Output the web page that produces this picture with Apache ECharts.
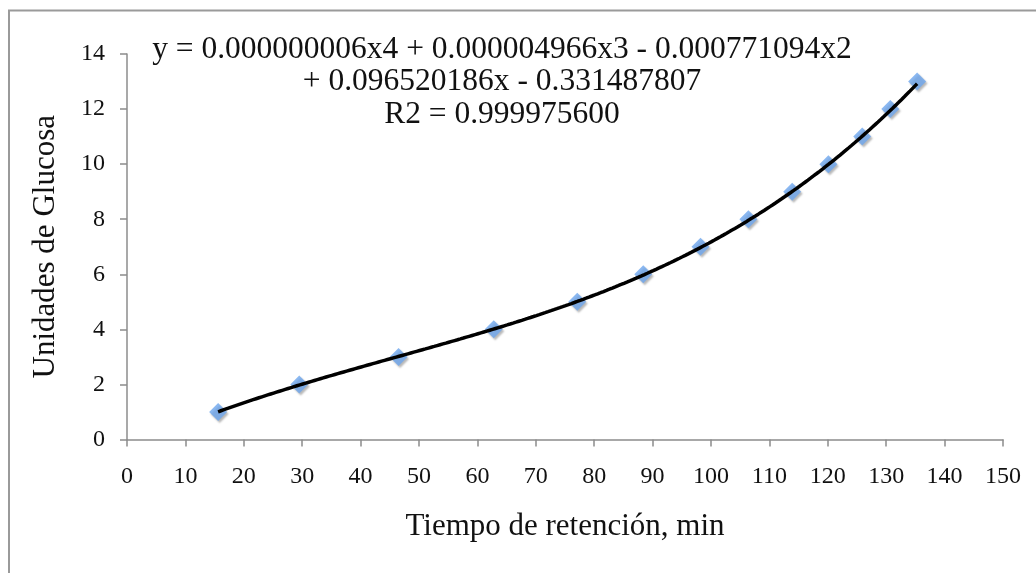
<!DOCTYPE html>
<html>
<head>
<meta charset="utf-8">
<script src="https://cdn.jsdelivr.net/npm/echarts@6/dist/echarts.min.js"></script>
<style>
  html, body { margin: 0; padding: 0; background: #ffffff; }
  #chart { width: 1036px; height: 573px; }
</style>
</head>
<body>
<div id="chart"></div>
<script>
// Retention time (min) of each glucose unit standard
const retentionTimes = [15.6, 29.5, 46.5, 62.8, 77.1, 88.4, 98.2, 106.4, 113.9, 120.1, 125.9, 130.7, 135.3];
// Glucose units
const glucoseUnits = [1, 2, 3, 4, 5, 6, 7, 8, 9, 10, 11, 12, 13];
// Fitted 4th-order polynomial, highest power first
const polyCoefficients = [0.000000006, 0.000004966, -0.000771094, 0.096520186, -0.331487807];
const equationLines = [
  'y = 0.000000006x4 + 0.000004966x3 - 0.000771094x2',
  '+ 0.096520186x - 0.331487807',
  'R2 = 0.999975600'
];
const xTicks = { min: 0, max: 150, interval: 10 };
const yTicks = { min: 0, max: 14, interval: 2 };

const FONT = '"Liberation Serif", "DejaVu Serif", serif';

const points = retentionTimes.map((t, i) => [t, glucoseUnits[i]]);

function polyAt(x) {
  return polyCoefficients.reduce((acc, c) => acc * x + c, 0);
}
// Trendline traced from the fitted polynomial over the measured range
const trend = [];
const x0 = Math.min(...retentionTimes), x1 = Math.max(...retentionTimes);
for (let x = x0; x < x1; x += 0.5) trend.push([x, polyAt(x)]);
trend.push([x1, polyAt(x1)]);

const chart = echarts.init(document.getElementById('chart'), null, { renderer: 'canvas' });
chart.setOption({
  animation: false,
  backgroundColor: '#ffffff',
  grid: { left: 127, right: 33, top: 54, bottom: 133.5 },
  xAxis: {
    type: 'value',
    min: xTicks.min, max: xTicks.max, interval: xTicks.interval,
    name: 'Tiempo de retención, min',
    nameLocation: 'middle',
    nameGap: 72,
    nameTextStyle: { fontFamily: FONT, fontSize: 31, color: '#111' },
    axisLine: { show: true, lineStyle: { color: '#8c8c8c', width: 1.5 } },
    axisTick: { show: true, length: 7, lineStyle: { color: '#8c8c8c', width: 1.5 } },
    axisLabel: { fontFamily: FONT, fontSize: 24, color: '#111', margin: 25 },
    splitLine: { show: false }
  },
  yAxis: {
    type: 'value',
    min: yTicks.min, max: yTicks.max, interval: yTicks.interval,
    name: 'Unidades de Glucosa',
    nameLocation: 'middle',
    nameGap: 66,
    nameTextStyle: { fontFamily: FONT, fontSize: 31, color: '#111' },
    axisLine: { show: true, lineStyle: { color: '#8c8c8c', width: 1.5 } },
    axisTick: { show: true, length: 7, lineStyle: { color: '#8c8c8c', width: 1.5 } },
    axisLabel: { fontFamily: FONT, fontSize: 24, color: '#111', margin: 22 },
    splitLine: { show: false }
  },
  graphic: [
    {
      type: 'rect', silent: true, z: -1,
      shape: { x: 9, y: 10.5, width: 1200, height: 700 },
      style: { fill: 'none', stroke: '#9a9a9a', lineWidth: 2 }
    },
    {
      type: 'text', silent: true,
      style: {
        x: 502, y: 33, text: equationLines.join('\n'),
        textAlign: 'center', font: '31.5px ' + FONT, fill: '#111', lineHeight: 32.5
      }
    }
  ],
  series: [
    {
      type: 'scatter',
      data: points,
      symbol: 'diamond',
      symbolSize: 18,
      itemStyle: {
        color: '#6ea6ee',
        shadowColor: 'rgba(0,0,0,0.35)',
        shadowBlur: 2,
        shadowOffsetX: 1.5,
        shadowOffsetY: 2
      },
      z: 2
    },
    {
      type: 'line',
      data: trend,
      showSymbol: false,
      symbol: 'none',
      smooth: false,
      lineStyle: { color: '#000000', width: 3.5 },
      z: 3
    }
  ]
});
</script>
</body>
</html>
